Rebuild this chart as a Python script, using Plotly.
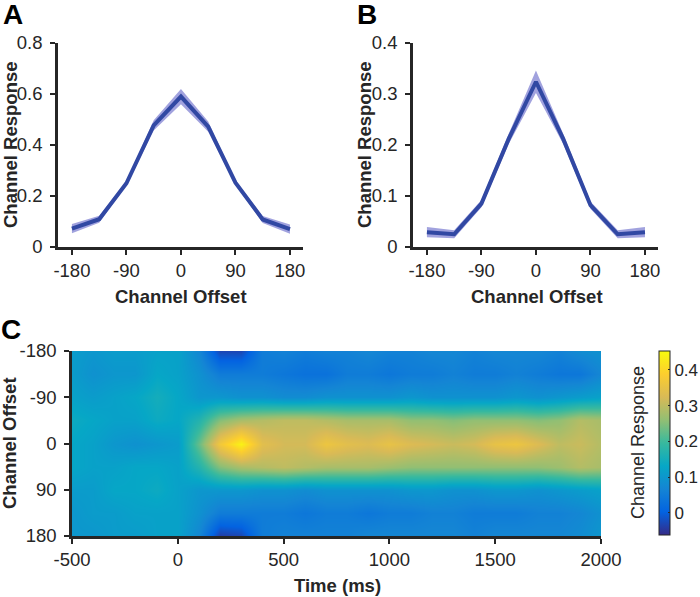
"""Channel tuning functions (A, B) and time-resolved channel response (C)."""

import plotly.graph_objects as go

# ── Data ──────────────────────────────────────────────────

offsets = [-180, -135, -90, -45, 0, 45, 90, 135, 180]
offset_ticks = [-180, -90, 0, 90, 180]
offset_labels = ["-180", "-90", "0", "90", "180"]

a_mean = [0.072, 0.109, 0.250, 0.477, 0.590, 0.472, 0.252, 0.108, 0.070]
a_err = [0.018, 0.014, 0.008, 0.020, 0.030, 0.020, 0.008, 0.014, 0.018]

b_mean = [0.029, 0.025, 0.085, 0.212, 0.324, 0.212, 0.082, 0.025, 0.029]
b_err = [0.010, 0.008, 0.007, 0.010, 0.022, 0.010, 0.007, 0.008, 0.010]

times = [-500, -400, -300, -200, -100, 0, 100, 200, 300, 400, 500, 600, 700,
         800, 900, 1000, 1100, 1200, 1300, 1400, 1500, 1600, 1700, 1800, 1900, 2000]
time_ticks = [-500, 0, 500, 1000, 1500, 2000]
time_labels = ["-500", "0", "500", "1000", "1500", "2000"]

# one row per channel offset (-180 ... 180), one value per time point
resp_m180 = [0.11, 0.10, 0.11, 0.11, 0.12, 0.12, 0.07, -0.03, -0.03, 0.05, 0.06, 0.05, 0.06,
             0.06, 0.07, 0.06, 0.06, 0.07, 0.07, 0.06, 0.07, 0.07, 0.07, 0.06, 0.08, 0.09]
resp_m135 = [0.11, 0.09, 0.10, 0.10, 0.13, 0.12, 0.09, 0.05, 0.05, 0.05, 0.04, 0.03, 0.03,
             0.05, 0.05, 0.04, 0.05, 0.05, 0.06, 0.05, 0.05, 0.06, 0.05, 0.04, 0.04, 0.07]
resp_m90 = [0.12, 0.11, 0.12, 0.13, 0.15, 0.13, 0.10, 0.10, 0.09, 0.09, 0.08, 0.08, 0.09,
            0.09, 0.09, 0.09, 0.10, 0.09, 0.09, 0.09, 0.09, 0.10, 0.09, 0.10, 0.11, 0.12]
resp_m45 = [0.14, 0.13, 0.12, 0.12, 0.14, 0.13, 0.17, 0.25, 0.28, 0.29, 0.30, 0.30, 0.29,
            0.28, 0.28, 0.28, 0.26, 0.26, 0.25, 0.26, 0.26, 0.26, 0.25, 0.26, 0.29, 0.28]
resp_0 = [0.13, 0.12, 0.10, 0.09, 0.10, 0.11, 0.23, 0.37, 0.44, 0.34, 0.32, 0.32, 0.36,
          0.34, 0.33, 0.35, 0.33, 0.32, 0.31, 0.32, 0.35, 0.36, 0.33, 0.30, 0.31, 0.29]
resp_p45 = [0.13, 0.12, 0.12, 0.13, 0.13, 0.12, 0.17, 0.25, 0.28, 0.29, 0.30, 0.29, 0.28,
            0.28, 0.28, 0.27, 0.26, 0.26, 0.26, 0.26, 0.26, 0.26, 0.26, 0.27, 0.29, 0.28]
resp_p90 = [0.11, 0.11, 0.13, 0.13, 0.14, 0.12, 0.10, 0.10, 0.10, 0.09, 0.09, 0.08, 0.09,
            0.09, 0.09, 0.09, 0.10, 0.10, 0.09, 0.09, 0.10, 0.10, 0.09, 0.10, 0.11, 0.12]
resp_p135 = [0.10, 0.11, 0.11, 0.12, 0.12, 0.12, 0.09, 0.05, 0.05, 0.05, 0.05, 0.04, 0.05,
             0.05, 0.04, 0.05, 0.05, 0.06, 0.06, 0.05, 0.05, 0.05, 0.06, 0.06, 0.07, 0.09]
resp_p180 = [0.10, 0.10, 0.11, 0.11, 0.12, 0.12, 0.07, -0.04, -0.03, 0.05, 0.06, 0.06, 0.06,
             0.06, 0.07, 0.07, 0.07, 0.07, 0.07, 0.06, 0.07, 0.07, 0.07, 0.07, 0.08, 0.10]

# ── Style ─────────────────────────────────────────────────

W, H = 700, 597
FONT = "Arial, Liberation Sans, sans-serif"
INK = "#262626"
LINE = "#3148A3"
BAND = "rgba(110, 112, 205, 0.65)"

PARULA = [
    [0.000, "#352a87"], [0.125, "#0363e1"], [0.250, "#1485d4"],
    [0.375, "#06a7c6"], [0.500, "#38b99e"], [0.625, "#92bf73"],
    [0.750, "#d9ba56"], [0.875, "#fcce2e"], [1.000, "#f9fb0e"],
]


def px_x(x):
    return x / W


def px_y(y):
    return 1 - y / H


def tuning_traces(mean, err, xa, ya):
    upper = [m + e for m, e in zip(mean, err)]
    lower = [m - e for m, e in zip(mean, err)]
    return [
        go.Scatter(x=offsets, y=upper, mode="lines", line=dict(width=0),
                   xaxis=xa, yaxis=ya, showlegend=False, hoverinfo="skip"),
        go.Scatter(x=offsets, y=lower, mode="lines", line=dict(width=0),
                   fill="tonexty", fillcolor=BAND,
                   xaxis=xa, yaxis=ya, showlegend=False, hoverinfo="skip"),
        go.Scatter(x=offsets, y=mean, mode="lines", line=dict(color=LINE, width=4),
                   xaxis=xa, yaxis=ya, showlegend=False),
    ]


fig = go.Figure()
for t in tuning_traces(a_mean, a_err, "x", "y"):
    fig.add_trace(t)
for t in tuning_traces(b_mean, b_err, "x2", "y2"):
    fig.add_trace(t)

z = [resp_m180, resp_m135, resp_m90, resp_m45, resp_0, resp_p45, resp_p90, resp_p135, resp_p180]
fig.add_trace(go.Heatmap(
    x=times, y=offsets, z=z,
    xaxis="x3", yaxis="y3",
    zsmooth="best",
    colorscale=PARULA, zmin=-0.062, zmax=0.453,
    colorbar=dict(
        x=px_x(659), xanchor="left", xpad=0,
        y=px_y(351), yanchor="top", ypad=0,
        len=184 / H, lenmode="fraction", thickness=11,
        outlinewidth=1, outlinecolor=INK,
        tickvals=[0, 0.1, 0.2, 0.3, 0.4], ticktext=["0", "0.1", "0.2", "0.3", "0.4"],
        ticks="inside", ticklen=2, tickcolor=INK,
        tickfont=dict(size=17, color=INK, family=FONT),
    ),
))

axis_common = dict(
    showline=True, linecolor=INK, linewidth=2.5,
    ticks="outside", ticklen=5, tickwidth=2, tickcolor=INK,
    showgrid=False, zeroline=False, automargin=False,
    tickfont=dict(size=18.5, color=INK, family=FONT),
)
yaxis_common = dict(axis_common, ticklabelstandoff=4)

fig.update_layout(
    template="none",
    width=W, height=H,
    margin=dict(l=0, r=0, t=0, b=0, autoexpand=False),
    paper_bgcolor="white", plot_bgcolor="white",
    font=dict(family=FONT, color=INK),
    xaxis=dict(domain=[px_x(58), px_x(303)], range=[-203, 201.5],
               tickvals=offset_ticks, ticktext=offset_labels, anchor="y", **axis_common),
    yaxis=dict(domain=[px_y(247), px_y(43)], range=[0, 0.8],
               tickvals=[0, 0.2, 0.4, 0.6, 0.8], ticktext=["0", "0.2", "0.4", "0.6", "0.8"],
               anchor="x", **yaxis_common),
    xaxis2=dict(domain=[px_x(413), px_x(658)], range=[-203, 201.5],
                tickvals=offset_ticks, ticktext=offset_labels, anchor="y2", **axis_common),
    yaxis2=dict(domain=[px_y(247), px_y(43)], range=[0, 0.4],
                tickvals=[0, 0.1, 0.2, 0.3, 0.4], ticktext=["0", "0.1", "0.2", "0.3", "0.4"],
                anchor="x2", **yaxis_common),
    xaxis3=dict(domain=[px_x(72), px_x(601)], range=[-500, 2000],
                tickvals=time_ticks, ticktext=time_labels, anchor="y3", **axis_common),
    yaxis3=dict(domain=[px_y(536), px_y(351)], range=[180, -180],
                tickvals=offset_ticks, ticktext=offset_labels, anchor="x3", **yaxis_common),
)

# ── Labels ────────────────────────────────────────────────

def label(text, x, y, size=18.5, bold=True, angle=0):
    fig.add_annotation(
        text=f"<b>{text}</b>" if bold else text,
        x=px_x(x), y=px_y(y), xref="paper", yref="paper",
        xanchor="center", yanchor="middle", showarrow=False, textangle=angle,
        font=dict(size=size, color=INK if size < 25 else "black", family=FONT),
    )


label("A", 13, 15, size=28)
label("B", 367, 15, size=28)
label("C", 11, 330, size=28)

label("Channel Response", 10, 145, angle=-90)
label("Channel Offset", 181, 296)
label("Channel Response", 364, 145, angle=-90)
label("Channel Offset", 537, 296)

label("Channel Offset", 9, 443, angle=-90)
label("Time (ms)", 337, 585)
label("Channel Response", 638, 443, size=18, bold=False, angle=-90)

# the page's default 8px body margin would push the figure off the window
fig.write_html(
    "out.html",
    config={"displayModeBar": False},
    post_script="document.body.style.margin = '0';",
)
